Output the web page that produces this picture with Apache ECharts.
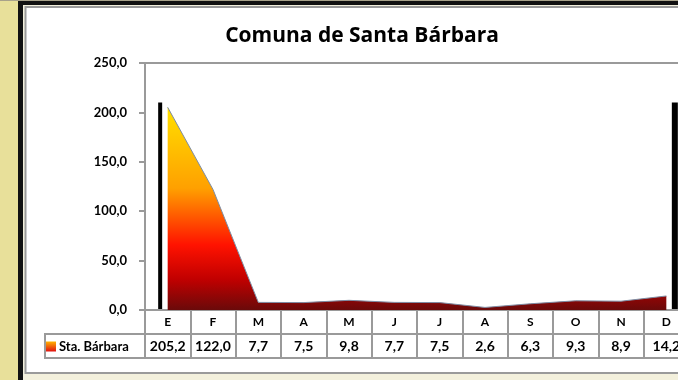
<!DOCTYPE html>
<html>
<head>
<meta charset="utf-8">
<script src="https://cdn.jsdelivr.net/npm/echarts@6/dist/echarts.min.js"></script>
<style>html,body{margin:0;padding:0;}#c{width:678px;height:380px;}</style>
</head>
<body>
<div id="c"></div>
<script>
var months = ['E','F','M','A','M','J','J','A','S','O','N','D'];
var values = [205.2,122.0,7.7,7.5,9.8,7.7,7.5,2.6,6.3,9.3,8.9,14.2];
var seriesName = 'Sta. Bárbara';
var yTicks = [0,50,100,150,200,250];
var titleText = 'Comuna de Santa Bárbara';
var wallTop = 210;

function fmt(v){ return v.toFixed(1).replace('.', ','); }
var valueLabels = values.map(fmt);
var FONT = 'Lato';
var GRAY = '#9a9a9a';

var chart = echarts.init(document.getElementById('c'), null, {renderer:'canvas'});
var option = {
  animation:false,
  backgroundColor:'#e8e09a',
  title:{text:titleText, left:357, top:21, textAlign:'center',
    textStyle:{fontFamily:'Open Sans', fontWeight:'bold', fontSize:21, color:'#000'}},
  legend:{data:[seriesName], left:46, top:340, padding:0, itemWidth:10, itemHeight:10, icon:'rect', itemGap:3,
    textStyle:{fontFamily:FONT, fontWeight:'bold', fontSize:13, color:'#000', padding:[0,0,0,-2]}},
  grid:{left:145, top:63, width:544, height:247, show:true, borderColor:GRAY, borderWidth:2,
    backgroundColor:'transparent', containLabel:false, outerBoundsMode:'none'},
  yAxis:{type:'value', min:yTicks[0], max:yTicks[yTicks.length-1], interval:50,
    axisLine:{show:true, lineStyle:{color:GRAY, width:2}},
    axisTick:{show:true, length:6, lineStyle:{color:GRAY, width:2}},
    splitLine:{show:false},
    axisLabel:{formatter:function(v){return fmt(v);}, margin:18, fontFamily:FONT, fontWeight:'bold', fontSize:13, color:'#000'}},
  xAxis:[
    {type:'category', data:months, position:'bottom', boundaryGap:true,
      axisLine:{show:true, lineStyle:{color:GRAY, width:2}},
      axisTick:{show:true, length:48, interval:0, lineStyle:{color:GRAY, width:2}},
      axisLabel:{interval:0, margin:6, fontFamily:FONT, fontWeight:'bold', fontSize:12, color:'#000'}},
    {type:'category', data:valueLabels, position:'bottom', offset:24, boundaryGap:true,
      axisLine:{show:true, lineStyle:{color:GRAY, width:2}},
      axisTick:{show:false},
      axisLabel:{interval:0, margin:5, fontFamily:FONT, fontWeight:'bold', fontSize:14, color:'#000'}},
    {type:'category', data:months, position:'bottom', offset:48, boundaryGap:true,
      axisLine:{show:true, lineStyle:{color:GRAY, width:2}},
      axisTick:{show:false}, axisLabel:{show:false}}
  ],
  series:[{
    name:seriesName, type:'line', xAxisIndex:0, data:values, symbol:'none',
    lineStyle:{color:'#7d8ca3', width:1},
    itemStyle:{color:new echarts.graphic.LinearGradient(0,0,0,1,[{offset:0,color:'#ffb300'},{offset:1,color:'#e01010'}])},
    areaStyle:{opacity:1, color:new echarts.graphic.LinearGradient(0,0,0,1,[
      {offset:0,color:'#ffe000'},{offset:0.4,color:'#ffa000'},{offset:0.68,color:'#ff1200'},
      {offset:0.85,color:'#c00000'},{offset:1,color:'#6a0a0a'}])},
    z:3
  }]
};
chart.setOption(option);

var pL = chart.convertToPixel({xAxisIndex:0, yAxisIndex:0}, [0, wallTop]);
var pR = chart.convertToPixel({xAxisIndex:0, yAxisIndex:0}, [11, wallTop]);
var p0 = chart.convertToPixel({xAxisIndex:0, yAxisIndex:0}, [0, 0]);

chart.setOption({graphic:[
  {type:'rect', z:-10, silent:true, shape:{x:18, y:1, width:700, height:400}, style:{fill:'#111'}},
  {type:'rect', z:-10, silent:true, shape:{x:0, y:0, width:700, height:1}, style:{fill:'#a8a28a'}},
  {type:'rect', z:-9, silent:true, shape:{x:23, y:5, width:700, height:400}, style:{fill:'#f3f0dc'}},
  {type:'rect', z:-8, silent:true, shape:{x:25.5, y:7, width:700, height:366}, style:{fill:'#fff', stroke:GRAY, lineWidth:2}},
  {type:'rect', z:5, silent:true, shape:{x:45, y:334, width:100, height:24}, style:{fill:'none', stroke:GRAY, lineWidth:2}},
  {type:'rect', z:10, silent:true, shape:{x:pL[0]-9.5, y:pL[1], width:4, height:p0[1]-pL[1]-1}, style:{fill:'#000'}},
  {type:'rect', z:10, silent:true, shape:{x:pR[0]+5.5, y:pR[1], width:6, height:p0[1]-pR[1]-1}, style:{fill:'#000'}}
]});
</script>
</body>
</html>
